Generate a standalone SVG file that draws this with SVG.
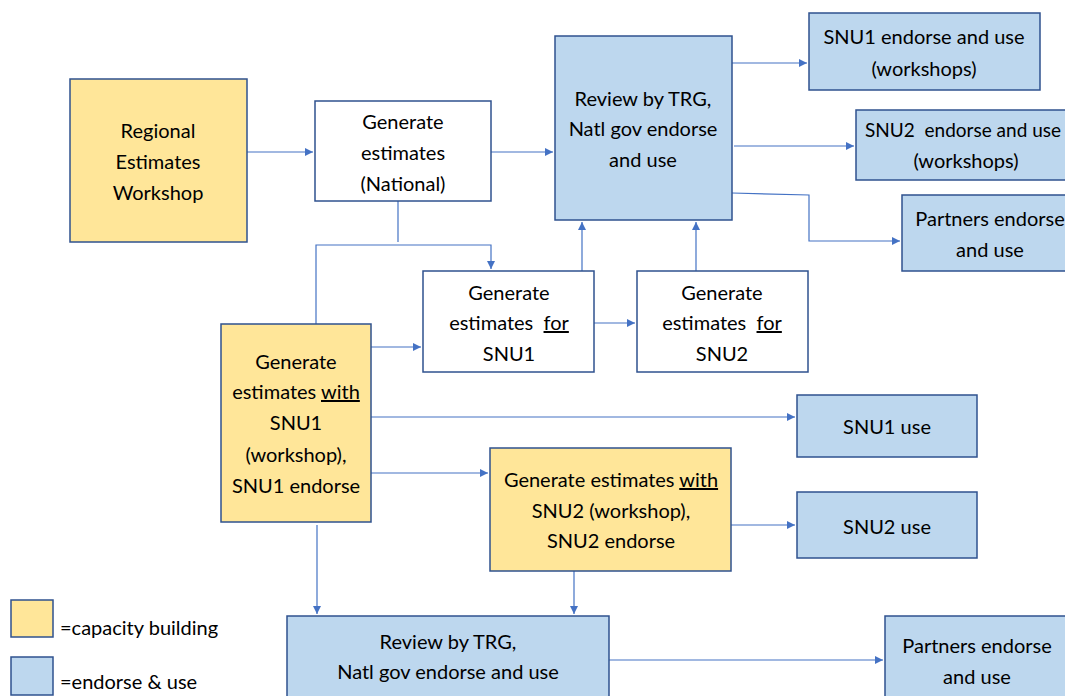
<svg xmlns="http://www.w3.org/2000/svg" width="1065" height="696" viewBox="0 0 1065 696">
<style>
.box{stroke:#2F528F;stroke-width:1.5}
.y{fill:#FFE699}
.b{fill:#BDD7EE}
.w{fill:#FFFFFF}
text{font-family:Lato,"Open Sans",sans-serif;font-size:20px;fill:#000;text-anchor:middle}
.lg{text-anchor:start}
.c{fill:none;stroke:#4472C4;stroke-width:1.2}
.u{text-decoration:underline}
</style>
<defs>
<marker id="ah" markerWidth="10" markerHeight="10" refX="8" refY="4" orient="auto" markerUnits="userSpaceOnUse">
<path d="M0,0 L8,4 L0,8 Z" fill="#4472C4"/>
</marker>
</defs>
<rect width="1065" height="696" fill="#fff"/>
<g id="connectors">
<path class="c" d="M247,152 H313" marker-end="url(#ah)"/>
<path class="c" d="M491,152 H553" marker-end="url(#ah)"/>
<path class="c" d="M398,201 V242"/>
<path class="c" d="M316,324 V245 H491 V269" marker-end="url(#ah)"/>
<path class="c" d="M582,271 V222" marker-end="url(#ah)"/>
<path class="c" d="M696,271 V222" marker-end="url(#ah)"/>
<path class="c" d="M594,323 H635" marker-end="url(#ah)"/>
<path class="c" d="M371,347 H421" marker-end="url(#ah)"/>
<path class="c" d="M732,63 H807" marker-end="url(#ah)"/>
<path class="c" d="M734,146 H854" marker-end="url(#ah)"/>
<path class="c" d="M732,193 L809,195 V241 H900" marker-end="url(#ah)"/>
<path class="c" d="M371,417 H795" marker-end="url(#ah)"/>
<path class="c" d="M371,473 H488" marker-end="url(#ah)"/>
<path class="c" d="M731,525 H795" marker-end="url(#ah)"/>
<path class="c" d="M317,525 V614" marker-end="url(#ah)"/>
<path class="c" d="M574,571 V614" marker-end="url(#ah)"/>
<path class="c" d="M609,660 H883" marker-end="url(#ah)"/>
</g>
<g id="regional">
<rect class="box y" x="70" y="79" width="177" height="163"/>
<text x="158" y="138">Regional</text>
<text x="158" y="169">Estimates</text>
<text x="158" y="200">Workshop</text>
</g>
<g id="national">
<rect class="box w" x="315" y="101" width="176" height="100"/>
<text x="403" y="129">Generate</text>
<text x="403" y="160">estimates</text>
<text x="403" y="191">(National)</text>
</g>
<g id="review-top">
<rect class="box b" x="555" y="36" width="177" height="184"/>
<text x="643" y="106">Review by TRG,</text>
<text x="643" y="136">Natl gov endorse</text>
<text x="643" y="167">and use</text>
</g>
<g id="snu1-endorse">
<rect class="box b" x="809" y="13" width="231" height="77"/>
<text x="924" y="44">SNU1 endorse and use</text>
<text x="924" y="76">(workshops)</text>
</g>
<g id="snu2-endorse">
<rect class="box b" x="856" y="110" width="212" height="70"/>
<text x="963" y="137" style="font-size:19px" xml:space="preserve">SNU2  endorse and use</text>
<text x="966" y="168">(workshops)</text>
</g>
<g id="partners-top">
<rect class="box b" x="902" y="195" width="166" height="76"/>
<text x="990" y="226">Partners endorse</text>
<text x="990" y="257">and use</text>
</g>
<g id="gen-for-snu1">
<rect class="box w" x="423" y="271" width="171" height="101"/>
<text x="509" y="300">Generate</text>
<text x="509" y="330" xml:space="preserve">estimates  <tspan class="u">for</tspan></text>
<text x="509" y="361">SNU1</text>
</g>
<g id="gen-for-snu2">
<rect class="box w" x="637" y="271" width="171" height="101"/>
<text x="722" y="300">Generate</text>
<text x="722" y="330" xml:space="preserve">estimates  <tspan class="u">for</tspan></text>
<text x="722" y="361">SNU2</text>
</g>
<g id="gen-with-snu1">
<rect class="box y" x="221" y="324" width="150" height="198"/>
<text x="296" y="369">Generate</text>
<text x="296" y="399">estimates <tspan class="u">with</tspan></text>
<text x="296" y="430">SNU1</text>
<text x="296" y="462">(workshop),</text>
<text x="296" y="493">SNU1 endorse</text>
</g>
<g id="snu1-use">
<rect class="box b" x="797" y="395" width="180" height="62"/>
<text x="887" y="434">SNU1 use</text>
</g>
<g id="gen-with-snu2">
<rect class="box y" x="490" y="448" width="241" height="123"/>
<text x="611" y="487">Generate estimates <tspan class="u">with</tspan></text>
<text x="611" y="518">SNU2 (workshop),</text>
<text x="611" y="548">SNU2 endorse</text>
</g>
<g id="snu2-use">
<rect class="box b" x="797" y="492" width="180" height="66"/>
<text x="887" y="534">SNU2 use</text>
</g>
<g id="review-bottom">
<rect class="box b" x="287" y="616" width="322" height="84"/>
<text x="448" y="649">Review by TRG,</text>
<text x="448" y="679">Natl gov endorse and use</text>
</g>
<g id="partners-bottom">
<rect class="box b" x="885" y="616" width="183" height="84"/>
<text x="977" y="653">Partners endorse</text>
<text x="977" y="684">and use</text>
</g>
<g id="legend">
<rect class="box y" x="11" y="600" width="42" height="37"/>
<text class="lg" x="60" y="635">=capacity building</text>
<rect class="box b" x="11" y="657" width="42" height="38"/>
<text class="lg" x="60" y="689">=endorse &amp; use</text>
</g>
</svg>
